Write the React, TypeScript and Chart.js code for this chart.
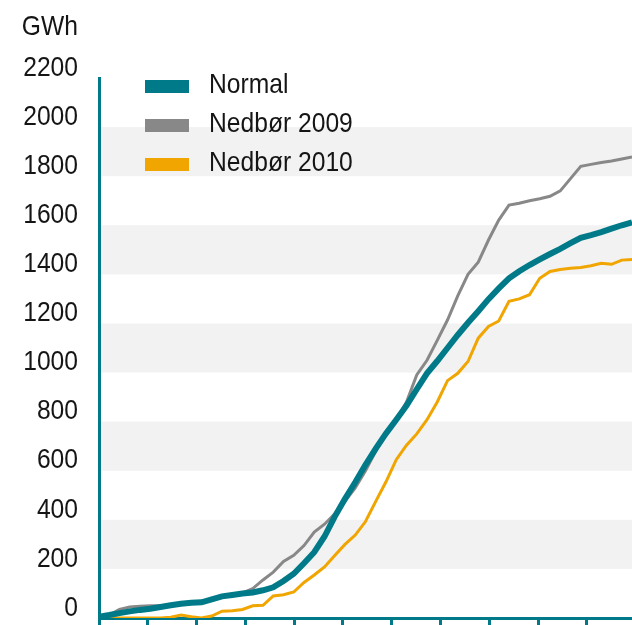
import React, { useEffect, useRef } from "react";
import { Chart, registerables } from "chart.js";

Chart.register(...registerables);

// Week index 0..52
const weeks: number[] = Array.from({ length: 53 }, (_, i) => i);

const seriesLabels = ["Normal", "Nedbør 2009", "Nedbør 2010"];

const normal: number[] = [
  5, 12, 20, 27, 33, 38, 45, 52, 58, 62, 64, 76, 88, 94, 100, 104, 113, 125, 151, 180,
  223, 268, 332, 413, 486, 553, 624, 690, 752, 808, 865, 932, 997, 1047, 1100, 1153,
  1203, 1250, 1299, 1343, 1384, 1413, 1438, 1461, 1483, 1504, 1527, 1549, 1560, 1572,
  1586, 1600, 1612,
];

const nedbor2009: number[] = [
  0, 12, 35, 45, 48, 50, 50, 53, 58, 62, 66, 78, 88, 94, 102, 120, 155, 187, 230, 255,
  295, 350, 382, 425, 475, 530, 600, 680, 750, 810, 880, 990, 1050, 1131, 1214, 1312,
  1400, 1450, 1540, 1621, 1682, 1690, 1700, 1708, 1718, 1740, 1790, 1840, 1848, 1856,
  1862, 1870, 1878,
];

const nedbor2010: number[] = [
  0, 0, 0, 0, 0, 0, 0, 3, 12, 5, 0, 8, 28, 30, 35, 50, 52, 90, 95, 106, 145, 175, 208,
  255, 300, 338, 393, 475, 555, 645, 704, 750, 808, 880, 967, 997, 1045, 1140, 1188,
  1210, 1290, 1300, 1317, 1384, 1412, 1420, 1425, 1428, 1435, 1445, 1441, 1458, 1461,
];

const yTickValues: number[] = [0, 200, 400, 600, 800, 1000, 1200, 1400, 1600, 1800, 2000, 2200];
const bandRanges: [number, number][] = [
  [200, 400],
  [600, 800],
  [1000, 1200],
  [1400, 1600],
  [1800, 2000],
];
const unitLabel = "GWh";

const TEAL = "#007a88";
const GRAY = "#888888";
const ORANGE = "#f0a500";
const BAND = "#f2f2f2";
const TEXT = "#151515";
const FONT = "'Liberation Sans', Arial, sans-serif";
const FONT_SIZE = 28;
const SX = 0.88; // horizontal squeeze to mimic a condensed face

function drawText(ctx: CanvasRenderingContext2D, text: string, x: number, y: number, align: CanvasTextAlign, baseline: CanvasTextBaseline) {
  ctx.save();
  ctx.translate(x, y);
  ctx.scale(SX, 1);
  ctx.font = `${FONT_SIZE}px ${FONT}`;
  ctx.fillStyle = TEXT;
  ctx.textAlign = align;
  ctx.textBaseline = baseline;
  ctx.fillText(text, 0, 0);
  ctx.restore();
}

const bandsPlugin = {
  id: "bands",
  beforeDraw(chart: any) {
    const { ctx, chartArea, scales } = chart;
    const y = scales.y;
    ctx.save();
    ctx.fillStyle = BAND;
    bandRanges.forEach(([a, b]) => {
      const top = y.getPixelForValue(b);
      const bottom = y.getPixelForValue(a);
      ctx.fillRect(chartArea.left + 1, top, chartArea.right - chartArea.left, bottom - top);
    });
    ctx.restore();
  },
};

const textPlugin = {
  id: "texts",
  afterDraw(chart: any) {
    const { ctx, scales } = chart;
    const y = scales.y;
    // y tick labels (from the scale's ticks)
    y.ticks.forEach((t: any) => {
      const py = y.getPixelForValue(t.value);
      drawText(ctx, String(t.value), 78, py - 10, "right", "middle");
    });
    // unit label
    drawText(ctx, unitLabel, 78, 35, "right", "alphabetic");
    // legend
    chart.data.datasets.forEach((ds: any, i: number) => {
      const rowTop = 80 + i * 39;
      ctx.save();
      ctx.fillStyle = ds.borderColor;
      ctx.fillRect(145, rowTop, 44, 13);
      ctx.restore();
      drawText(ctx, ds.label, 209, rowTop + 13, "left", "alphabetic");
    });
  },
};

export default function App() {
  const canvasRef = useRef<HTMLCanvasElement | null>(null);

  useEffect(() => {
    if (!canvasRef.current) return;
    const mk = (data: number[]) => data.map((v, i) => ({ x: weeks[i], y: v }));
    const chart = new Chart(canvasRef.current, {
      type: "line",
      data: {
        datasets: [
          {
            label: seriesLabels[0],
            data: mk(normal),
            borderColor: TEAL,
            backgroundColor: TEAL,
            borderWidth: 6,
            pointRadius: 0,
            tension: 0,
          },
          {
            label: seriesLabels[1],
            data: mk(nedbor2009),
            borderColor: GRAY,
            backgroundColor: GRAY,
            borderWidth: 3,
            pointRadius: 0,
            tension: 0,
          },
          {
            label: seriesLabels[2],
            data: mk(nedbor2010),
            borderColor: ORANGE,
            backgroundColor: ORANGE,
            borderWidth: 3,
            pointRadius: 0,
            tension: 0,
          },
        ],
      },
      options: {
        animation: false,
        responsive: false,
        devicePixelRatio: 1,
        layout: { padding: { top: 78, left: 0, right: 0, bottom: 0 } },
        plugins: {
          legend: { display: false },
          tooltip: { enabled: false },
        },
        scales: {
          x: {
            type: "linear",
            min: 0,
            max: 52,
            z: 1,
            afterFit: (scale: any) => {
              scale.height = 7;
            },
            grid: {
              display: true,
              drawOnChartArea: false,
              drawTicks: true,
              tickLength: 8,
              color: TEAL,
              lineWidth: 3,
            },
            border: { display: true, color: TEAL, width: 3 },
            ticks: { display: false, stepSize: 4.76, includeBounds: false },
          },
          y: {
            min: 0,
            max: 2200,
            z: 1,
            afterBuildTicks: (scale: any) => {
              scale.ticks = yTickValues.map((v) => ({ value: v }));
            },
            afterFit: (scale: any) => {
              scale.width = 99;
            },
            grid: { display: false, drawTicks: false },
            border: { display: true, color: TEAL, width: 3 },
            ticks: { display: false },
          },
        },
      },
      plugins: [bandsPlugin, textPlugin],
    });
    return () => chart.destroy();
  }, []);

  return (
    <div style={{ position: "absolute", left: 0, top: 0, width: 632, height: 625 }}>
      <canvas ref={canvasRef} width={632} height={625} />
    </div>
  );
}
